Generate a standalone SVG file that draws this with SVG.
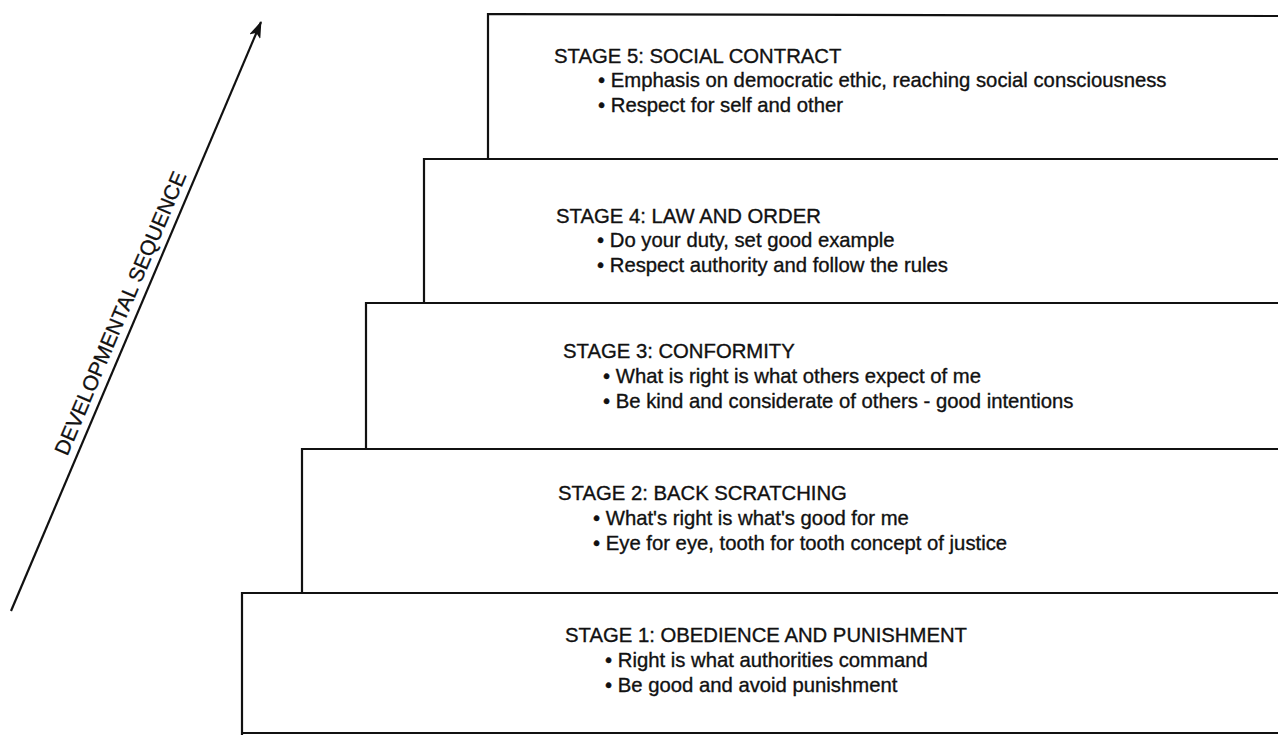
<svg xmlns="http://www.w3.org/2000/svg" width="1278" height="736" viewBox="0 0 1278 736">
  <style>
    .step { fill: none; stroke: #111; stroke-width: 2.2; }
    .title { font-family: "Liberation Sans", Arial, sans-serif; font-size: 20.3px; fill: #111; stroke: #111; stroke-width: 0.35; }
    .item { font-family: "Liberation Sans", Arial, sans-serif; font-size: 20.3px; fill: #111; stroke: #111; stroke-width: 0.35; }
    .axis { font-family: "Liberation Sans", Arial, sans-serif; font-size: 21px; fill: #111; stroke: #111; stroke-width: 0.3; }
  </style>
  <defs>
    <marker id="head" viewBox="0 0 17 12" refX="16" refY="6" markerWidth="17" markerHeight="12" markerUnits="userSpaceOnUse" orient="auto">
      <path d="M0,0 L17,6 L0,12 L4,6 Z" fill="#111"/>
    </marker>
  </defs>
  <rect width="1278" height="736" fill="#fff"/>

  <g id="connectors">
    <line x1="11" y1="611" x2="261" y2="22" stroke="#111" stroke-width="2.2" marker-end="url(#head)"/>
  </g>

  <g id="axis-label">
    <text class="axis" x="127" y="316" text-anchor="middle" transform="rotate(-67 127 316)">DEVELOPMENTAL SEQUENCE</text>
  </g>

  <g id="stage1">
    <path class="step" d="M1278,593 H242 V735 M242,733 H1278"/>
    <text class="title" x="565" y="642">STAGE 1: OBEDIENCE AND PUNISHMENT</text>
    <text class="item" x="605" y="667">• Right is what authorities command</text>
    <text class="item" x="605" y="692">• Be good and avoid punishment</text>
  </g>

  <g id="stage2">
    <path class="step" d="M1278,449 H302 V593"/>
    <text class="title" x="558" y="500">STAGE 2: BACK SCRATCHING</text>
    <text class="item" x="593" y="525">• What's right is what's good for me</text>
    <text class="item" x="593" y="550">• Eye for eye, tooth for tooth concept of justice</text>
  </g>

  <g id="stage3">
    <path class="step" d="M1278,303 H366 V449"/>
    <text class="title" x="563" y="358">STAGE 3: CONFORMITY</text>
    <text class="item" x="603" y="383">• What is right is what others expect of me</text>
    <text class="item" x="603" y="408">• Be kind and considerate of others - good intentions</text>
  </g>

  <g id="stage4">
    <path class="step" d="M1278,159 H424 V303"/>
    <text class="title" x="556" y="223">STAGE 4: LAW AND ORDER</text>
    <text class="item" x="597" y="247">• Do your duty, set good example</text>
    <text class="item" x="597" y="272">• Respect authority and follow the rules</text>
  </g>

  <g id="stage5">
    <path class="step" d="M1278,16 L488,14 V159"/>
    <text class="title" x="554" y="63">STAGE 5: SOCIAL CONTRACT</text>
    <text class="item" x="598" y="87">• Emphasis on democratic ethic, reaching social consciousness</text>
    <text class="item" x="598" y="112">• Respect for self and other</text>
  </g>
</svg>
